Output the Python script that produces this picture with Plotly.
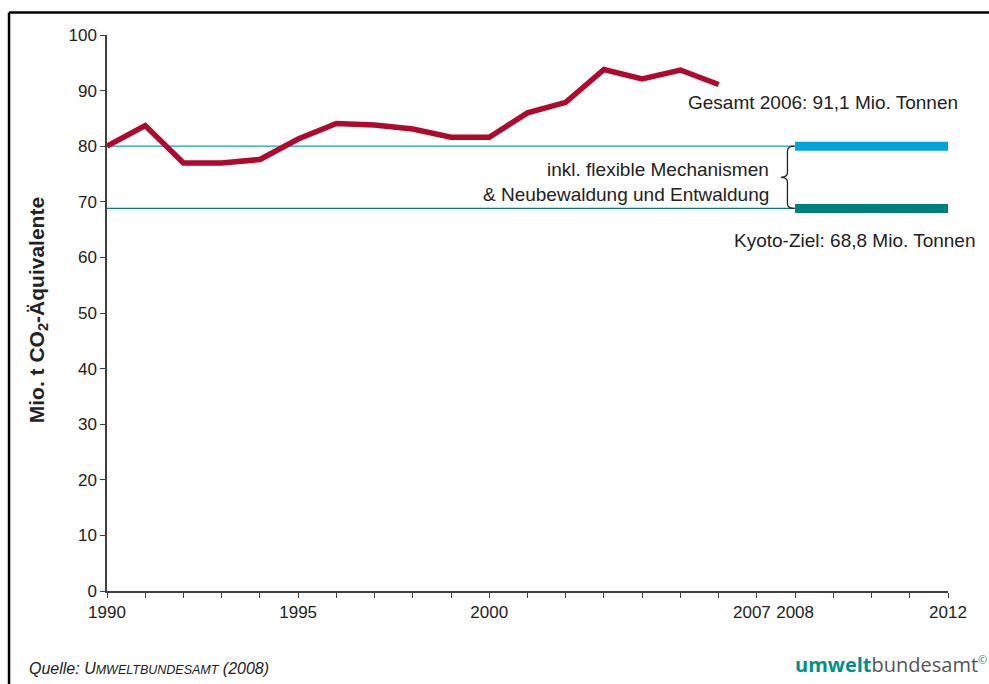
import plotly.graph_objects as go

# Treibhausgasemissionen (Mio. t CO2-Äquivalente), 1990-2006
years = list(range(1990, 2007))
emissions = [80.0, 83.7, 77.0, 77.0, 77.6, 81.3, 84.1, 83.8, 83.1, 81.6, 81.6,
             86.0, 87.9, 93.8, 92.1, 93.7, 91.1]

# Zielwerte für die Verpflichtungsperiode 2008-2012
target_flex = 80.0      # inkl. flexible Mechanismen & Neubewaldung/Entwaldung
target_kyoto = 68.8     # Kyoto-Ziel
period_start, period_end = 2008, 2012

x_tick_vals = list(range(1990, 2013))
x_tick_labels = {1990: "1990", 1995: "1995", 2000: "2000", 2008: "2008", 2012: "2012"}
last_year_label = 2007   # drawn separately, nudged left of its tick
y_tick_vals = list(range(0, 101, 10))

RED = "#AF0A2C"
BLUE = "#00A3DA"
TEAL = "#00807B"
AXIS = "#404040"
TXT = "#222222"
FONT = "Liberation Sans, Arial, sans-serif"

fig = go.Figure()

# thin reference lines up to the start of the commitment period
for val, col in ((target_flex, BLUE), (target_kyoto, TEAL)):
    fig.add_trace(go.Scatter(x=[years[0], period_start], y=[val, val], mode="lines",
                             line=dict(color=col, width=1.3), hoverinfo="skip",
                             showlegend=False))
    # thick bar for 2008-2012
    fig.add_trace(go.Scatter(x=[period_start, period_end], y=[val, val], mode="lines",
                             line=dict(color=col, width=9), hoverinfo="skip",
                             showlegend=False, cliponaxis=False))

# emissions line
fig.add_trace(go.Scatter(x=years, y=emissions, mode="lines",
                         line=dict(color=RED, width=5.5), showlegend=False,
                         cliponaxis=False))

# curly brace between the two target values
xb, xr, xl = 2007.8, 2007.98, 2007.63
yt, yb = target_flex, target_kyoto
ym = (yt + yb) / 2
d = 0.9
brace = (f"M {xr},{yt} Q {xb},{yt} {xb},{yt - d} L {xb},{ym + d} "
         f"Q {xb},{ym} {xl},{ym} Q {xb},{ym} {xb},{ym - d} "
         f"L {xb},{yb + d} Q {xb},{yb} {xr},{yb}")

shapes = [
    dict(type="path", xref="x", yref="y", path=brace,
         line=dict(color="#222222", width=1.3)),
    # outer frame
    dict(type="line", xref="paper", yref="paper", x0=-0.1165, x1=1.2,
         y0=1.0405, y1=1.0405, line=dict(color="black", width=2.5)),
    dict(type="line", xref="paper", yref="paper", x0=-0.1165, x1=-0.1165,
         y0=1.0405, y1=-0.3, line=dict(color="black", width=2.5)),
]

gesamt = emissions[-1]
annotations = [
    dict(x=2005.15, y=87.9, xref="x", yref="y", xanchor="left", yanchor="middle",
         text=f"Gesamt {years[-1]}: {gesamt:.1f}".replace(".", ",") + " Mio. Tonnen",
         showarrow=False, font=dict(family=FONT, size=19, color=TXT)),
    dict(x=2006.35, y=63.1, xref="x", yref="y", xanchor="left", yanchor="middle",
         text=f"Kyoto-Ziel: {target_kyoto:.1f}".replace(".", ",") + " Mio. Tonnen",
         showarrow=False, font=dict(family=FONT, size=19, color=TXT)),
    dict(x=2007.38, y=75.8, xref="x", yref="y", xanchor="right", yanchor="middle",
         text="inkl. flexible Mechanismen", showarrow=False,
         font=dict(family=FONT, size=19, color=TXT)),
    dict(x=2007.38, y=71.4, xref="x", yref="y", xanchor="right", yanchor="middle",
         text="&amp; Neubewaldung und Entwaldung", showarrow=False,
         font=dict(family=FONT, size=19, color=TXT)),
    # 2007 tick label, shifted left so it sits clear of 2008
    dict(x=last_year_label, y=0, xref="x", yref="y", xanchor="center",
         yanchor="middle", xshift=-5, yshift=-21, showarrow=False,
         text=str(last_year_label), font=dict(family=FONT, size=17, color=TXT)),
    # y-axis title
    dict(x=-0.082, y=0.505, xref="paper", yref="paper", textangle=-90,
         xanchor="center", yanchor="middle", showarrow=False,
         text="<b>Mio. t CO<sub>2</sub>-Äquivalente</b>",
         font=dict(family=FONT, size=21, color=TXT)),
    # source line
    dict(x=-0.0955, y=-0.1385, xref="paper", yref="paper", xanchor="left",
         yanchor="middle", showarrow=False,
         text=("<i>Quelle: U<span style='font-size:12.5px'>MWELTBUNDESAMT</span> (2008)</i>"),
         font=dict(family=FONT, size=16, color=TXT)),
    # logo
    dict(x=1.0488, y=-0.133, xref="paper", yref="paper", xanchor="right",
         yanchor="middle", showarrow=False,
         text=(f"<b><span style='color:#00908A'>umwelt</span></b>"
               f"<span style='color:#555555'>bundesamt</span>"
               f"<sup><span style='color:#00908A;font-size:11px'>©</span></sup>"),
         font=dict(family="Open Sans, sans-serif", size=20, color="#555555")),
]

fig.update_layout(
    width=989, height=684,
    margin=dict(l=107, r=41, t=35, b=93),
    paper_bgcolor="white", plot_bgcolor="white",
    font=dict(family=FONT, size=17, color=TXT),
    shapes=shapes, annotations=annotations,
    xaxis=dict(range=[1990, 2012], tickvals=x_tick_vals,
               ticktext=[x_tick_labels.get(v, "") for v in x_tick_vals],
               tickangle=0, automargin=False,
               showgrid=False, zeroline=False, showline=True, linecolor=AXIS,
               linewidth=1.5, ticks="outside", ticklen=5, tickcolor=AXIS,
               tickfont=dict(family=FONT, size=17, color=TXT)),
    yaxis=dict(range=[0, 100], tickvals=y_tick_vals, showgrid=False,
               automargin=False,
               zeroline=False, showline=True, linecolor=AXIS, linewidth=1.5,
               ticks="outside", ticklen=5, tickcolor=AXIS,
               tickfont=dict(family=FONT, size=17, color=TXT)),
)

fig.write_html("out.html")
